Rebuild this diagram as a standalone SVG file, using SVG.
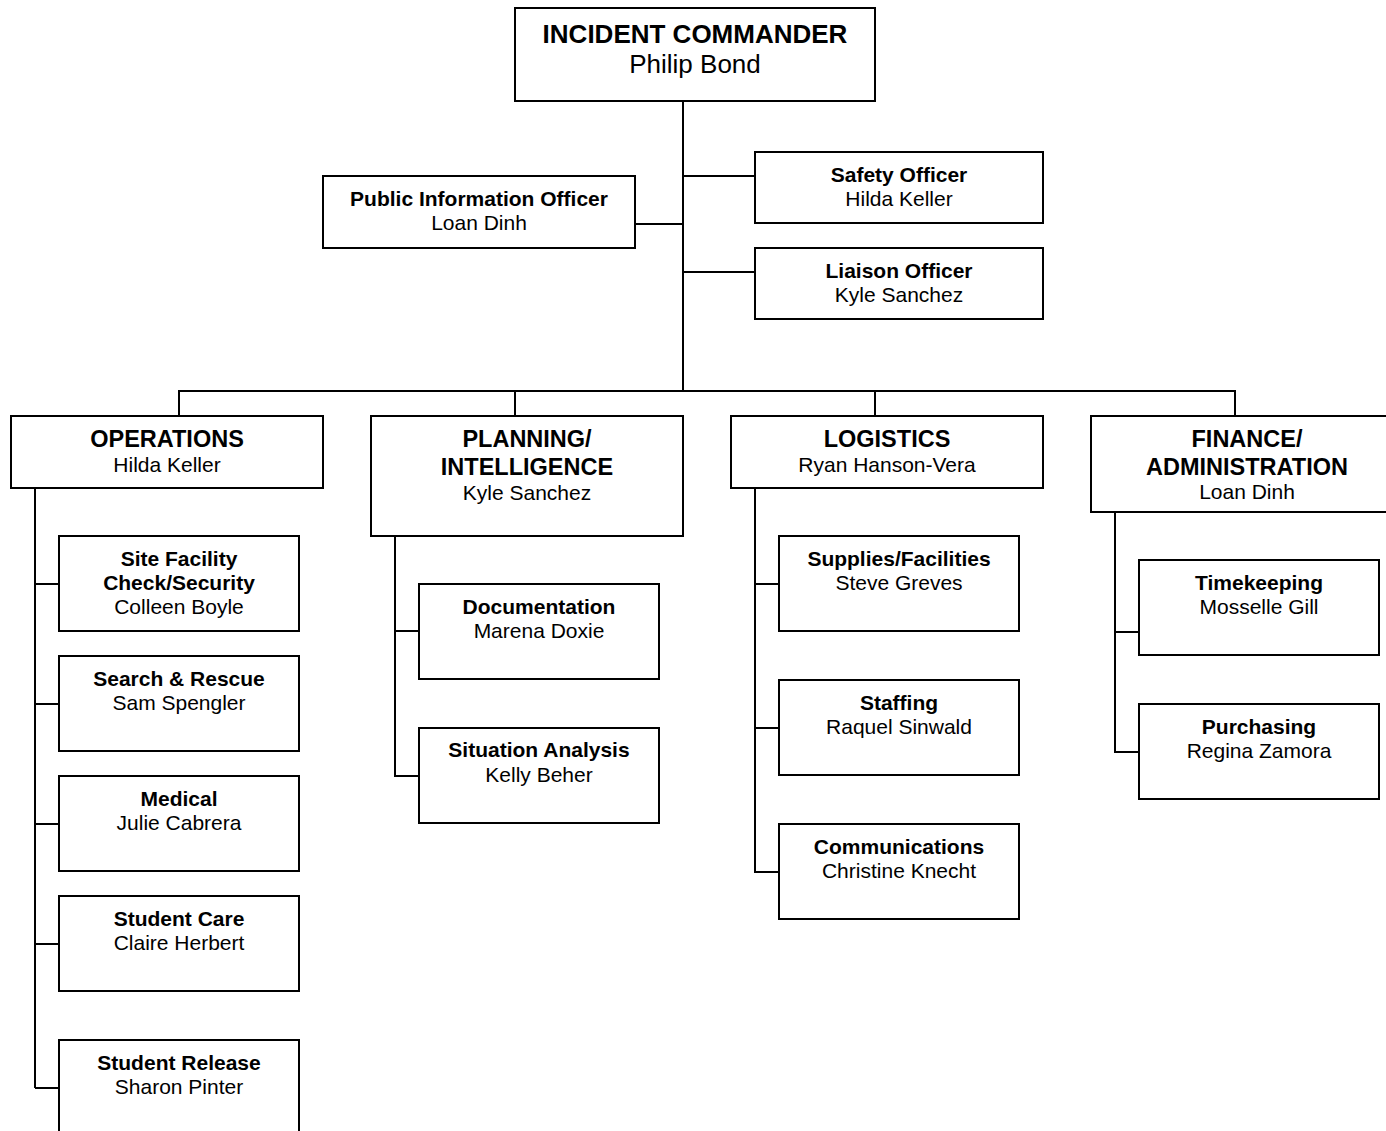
<svg xmlns="http://www.w3.org/2000/svg" width="1386" height="1131" viewBox="0 0 1386 1131">
<style>
rect{fill:#fff;stroke:#000;stroke-width:2}
.c path{fill:none;stroke:#000;stroke-width:2}
text{font-family:"Liberation Sans",Arial,sans-serif;fill:#000;text-anchor:middle}
.b{font-weight:bold}
.t0 text{font-size:26px}
.t1 text{font-size:23.5px}
.t1 text.n{font-size:21px}
.t2 text{font-size:21px}
</style>
<rect x="0" y="0" width="1386" height="1131" style="stroke:none;fill:#fff"/>
<g class="c" id="connectors">
<path d="M683 101V391M683 176H755M635 224H683M683 272H755"/>
<path d="M179 416V391H1235V416M515 391V416M875 391V416"/>
<path d="M35 488V1088M35 584H59M35 704H59M35 824H59M35 944H59M35 1088H59"/>
<path d="M395 536V776H419M395 631H419"/>
<path d="M755 488V872H779M755 584H779M755 728H779"/>
<path d="M1115 512V752H1139M1115 632H1139"/>
</g>
<g id="commander" class="t0"><rect x="515" y="8" width="360" height="93"/><text x="695" y="43" class="b">INCIDENT COMMANDER</text><text x="695" y="73">Philip Bond</text></g>
<g id="pio" class="t2"><rect x="323" y="176" width="312" height="72"/><text x="479" y="206" class="b">Public Information Officer</text><text x="479" y="230">Loan Dinh</text></g>
<g id="safety" class="t2"><rect x="755" y="152" width="288" height="71"/><text x="899" y="182" class="b">Safety Officer</text><text x="899" y="206">Hilda Keller</text></g>
<g id="liaison" class="t2"><rect x="755" y="248" width="288" height="71"/><text x="899" y="278" class="b">Liaison Officer</text><text x="899" y="302">Kyle Sanchez</text></g>
<g id="operations" class="t1"><rect x="11" y="416" width="312" height="72"/><text x="167" y="447" class="b">OPERATIONS</text><text x="167" y="472" class="n">Hilda Keller</text></g>
<g id="planning" class="t1"><rect x="371" y="416" width="312" height="120"/><text x="527" y="447" class="b">PLANNING/</text><text x="527" y="475" class="b">INTELLIGENCE</text><text x="527" y="500" class="n">Kyle Sanchez</text></g>
<g id="logistics" class="t1"><rect x="731" y="416" width="312" height="72"/><text x="887" y="447" class="b">LOGISTICS</text><text x="887" y="472" class="n">Ryan Hanson-Vera</text></g>
<g id="finance" class="t1"><rect x="1091" y="416" width="312" height="96"/><text x="1247" y="447" class="b">FINANCE/</text><text x="1247" y="475" class="b">ADMINISTRATION</text><text x="1247" y="499" class="n">Loan Dinh</text></g>
<g id="site-facility" class="t2"><rect x="59" y="536" width="240" height="95"/><text x="179" y="566" class="b">Site Facility</text><text x="179" y="590" class="b">Check/Security</text><text x="179" y="614">Colleen Boyle</text></g>
<g id="search-rescue" class="t2"><rect x="59" y="656" width="240" height="95"/><text x="179" y="686" class="b">Search &amp; Rescue</text><text x="179" y="710">Sam Spengler</text></g>
<g id="medical" class="t2"><rect x="59" y="776" width="240" height="95"/><text x="179" y="806" class="b">Medical</text><text x="179" y="830">Julie Cabrera</text></g>
<g id="student-care" class="t2"><rect x="59" y="896" width="240" height="95"/><text x="179" y="926" class="b">Student Care</text><text x="179" y="950">Claire Herbert</text></g>
<g id="student-release" class="t2"><rect x="59" y="1040" width="240" height="100"/><text x="179" y="1070" class="b">Student Release</text><text x="179" y="1094">Sharon Pinter</text></g>
<g id="documentation" class="t2"><rect x="419" y="584" width="240" height="95"/><text x="539" y="614" class="b">Documentation</text><text x="539" y="638">Marena Doxie</text></g>
<g id="situation-analysis" class="t2"><rect x="419" y="728" width="240" height="95"/><text x="539" y="757" class="b">Situation Analysis</text><text x="539" y="782">Kelly Beher</text></g>
<g id="supplies" class="t2"><rect x="779" y="536" width="240" height="95"/><text x="899" y="566" class="b">Supplies/Facilities</text><text x="899" y="590">Steve Greves</text></g>
<g id="staffing" class="t2"><rect x="779" y="680" width="240" height="95"/><text x="899" y="710" class="b">Staffing</text><text x="899" y="734">Raquel Sinwald</text></g>
<g id="communications" class="t2"><rect x="779" y="824" width="240" height="95"/><text x="899" y="854" class="b">Communications</text><text x="899" y="878">Christine Knecht</text></g>
<g id="timekeeping" class="t2"><rect x="1139" y="560" width="240" height="95"/><text x="1259" y="590" class="b">Timekeeping</text><text x="1259" y="614">Mosselle Gill</text></g>
<g id="purchasing" class="t2"><rect x="1139" y="704" width="240" height="95"/><text x="1259" y="734" class="b">Purchasing</text><text x="1259" y="758">Regina Zamora</text></g>
</svg>
